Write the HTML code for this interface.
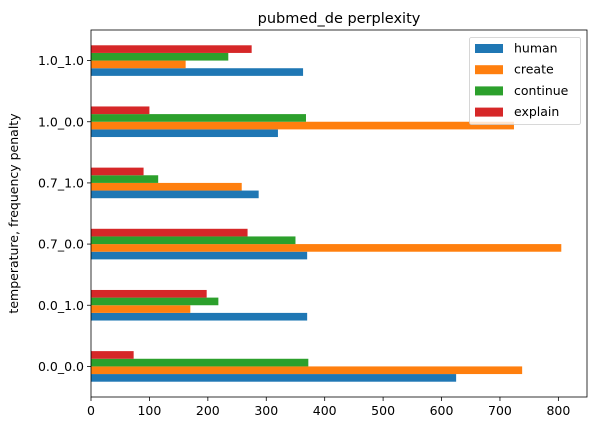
<!DOCTYPE html>
<html><head><meta charset="utf-8"><style>
body{margin:0;background:#fff;font-family:"Liberation Sans","DejaVu Sans",sans-serif;}
svg text{font-family:"DejaVu Sans","Liberation Sans",sans-serif;}
</style></head><body>
<svg id="chart" width="596" height="433" xmlns="http://www.w3.org/2000/svg"></svg>
<script>
const categories=["0.0_0.0","0.0_1.0","0.7_0.0","0.7_1.0","1.0_0.0","1.0_1.0"];
const seriesNames=["human","create","continue","explain"];
const human=[625,370,370,287,320,363];
const create=[738,170,805,258,724,162];
const cont=[372,218,350,115,368,235];
const explain=[73,198,268,90,100,275];
const xTicks=[0,100,200,300,400,500,600,700,800];
const colors=["#1f77b4","#ff7f0e","#2ca02c","#d62728"];
const series=[human,create,cont,explain];
const L=91,R=587,T=30,B=397,XMAX=849;
const svg=document.getElementById('chart');
const NS="http://www.w3.org/2000/svg";
function x(v){return L+(v/XMAX)*(R-L);}
const band=(B-T)/categories.length;
function yc(i){return B-band*(i+0.5);}
function mk(tag,attrs){const e=document.createElementNS(NS,tag);for(const k in attrs)e.setAttribute(k,attrs[k]);svg.appendChild(e);return e;}
const bh=band*0.125;
categories.forEach((c,i)=>{
  series.forEach((s,j)=>{
    const y0=yc(i)+band*0.25-bh*(j+1);
    const r=mk('rect',{x:x(0),y:y0,width:x(s[i])-x(0),height:bh,fill:colors[j]});
    
    
  });
  mk('line',{x1:L-4,x2:L,y1:yc(i),y2:yc(i),stroke:'#000','stroke-width':0.8});
  const t=mk('text',{x:L-7,y:yc(i)+4.5,'text-anchor':'end','font-size':12.5});
  t.textContent=c;
  
  
});
xTicks.forEach(v=>{
  mk('line',{x1:x(v),x2:x(v),y1:B,y2:B+4,stroke:'#000','stroke-width':0.8});
  const t=mk('text',{x:x(v),y:B+18,'text-anchor':'middle','font-size':12.5});
  t.textContent=v;
  
  
});
const f=mk('rect',{x:L,y:T,width:R-L,height:B-T,fill:'none',stroke:'#000','stroke-width':0.8});


const ti=mk('text',{x:(L+R)/2,y:T-7,'text-anchor':'middle','font-size':14.5});
ti.textContent='pubmed_de perplexity';


const yt=mk('text',{x:0,y:0,'text-anchor':'middle','font-size':12.5,transform:`translate(18,${(T+B)/2}) rotate(-90)`});
yt.textContent='temperature, frequency penalty';


const lg=mk('rect',{x:469.5,y:37.5,width:111,height:87,fill:'#fff','fill-opacity':0.8,stroke:'#ccc','stroke-width':0.8,rx:2});


seriesNames.forEach((n,j)=>{
  const yy=48+j*21.2;
  const r=mk('rect',{x:475,y:yy-4,width:28,height:9,fill:colors[j]});
  
  
  const t=mk('text',{x:514,y:yy+4.5,'font-size':12.5});
  t.textContent=n;
  
  
});
</script>
</body></html>
